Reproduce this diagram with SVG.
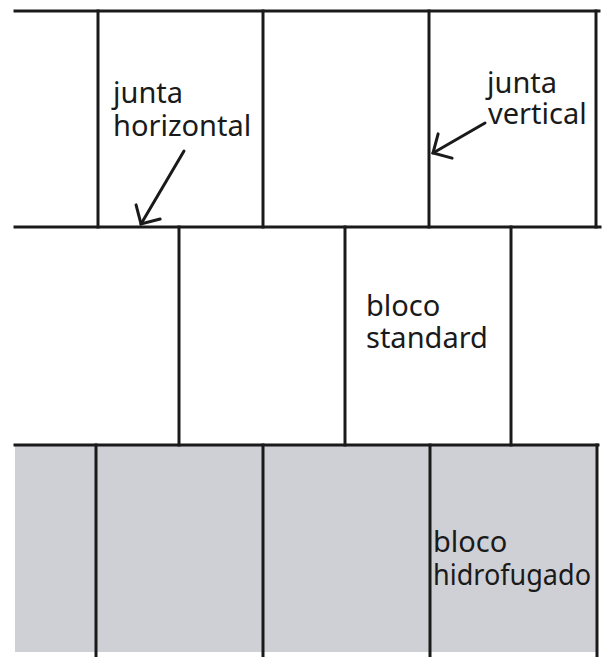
<svg xmlns="http://www.w3.org/2000/svg" width="602" height="657" viewBox="0 0 602 657">
  <style>
    .joint { stroke: #1a1a1a; stroke-width: 3; fill: none; stroke-linecap: square; }
    .lbl { font-family: "Noto Sans", "Liberation Sans", sans-serif; font-size: 29px; fill: #1a1a1a; }
    .arrow { stroke: #1a1a1a; stroke-width: 3; fill: none; stroke-linecap: round; marker-end: url(#openhead); }
  </style>
  <defs>
    <marker id="openhead" markerUnits="userSpaceOnUse" markerWidth="40" markerHeight="40" viewBox="-20 -20 40 40" refX="0" refY="0" orient="auto">
      <path d="M -14 -14 L 0 0 L -14 14" fill="none" stroke="#1a1a1a" stroke-width="3" stroke-linecap="round" stroke-linejoin="miter"/>
    </marker>
  </defs>
  <rect width="602" height="657" fill="#ffffff"/>

  <g id="bloco-hidrofugado-row">
    <rect x="15" y="445" width="582" height="207" fill="#cfd0d5"/>
  </g>

  <g id="wall-joints" class="joint">
    <line x1="15" y1="11" x2="599" y2="11"/>
    <line x1="98" y1="11" x2="98" y2="227"/>
    <line x1="263" y1="11" x2="263" y2="227"/>
    <line x1="429" y1="11" x2="429" y2="227"/>
    <line x1="596" y1="11" x2="596" y2="227"/>
    <line x1="15" y1="227" x2="600" y2="227"/>
    <line x1="179" y1="227" x2="179" y2="445"/>
    <line x1="345" y1="227" x2="345" y2="445"/>
    <line x1="511" y1="227" x2="511" y2="445"/>
    <line x1="15" y1="445" x2="598" y2="445"/>
    <line x1="96" y1="445" x2="96" y2="657"/>
    <line x1="263" y1="445" x2="263" y2="657"/>
    <line x1="430" y1="445" x2="430" y2="657"/>
    <line x1="597" y1="445" x2="597" y2="657"/>
  </g>

  <g id="label-junta-horizontal">
    <text class="lbl" x="113" y="103">junta</text>
    <text class="lbl" x="113" y="136">horizontal</text>
  </g>
  <g id="label-junta-vertical">
    <text class="lbl" x="487" y="93">junta</text>
    <text class="lbl" x="488" y="124">vertical</text>
  </g>
  <g id="label-bloco-standard">
    <text class="lbl" x="366" y="316">bloco</text>
    <text class="lbl" x="366" y="348">standard</text>
  </g>
  <g id="label-bloco-hidrofugado">
    <text class="lbl" x="433" y="552">bloco</text>
    <text class="lbl" x="433" y="585" textLength="158" lengthAdjust="spacingAndGlyphs">hidrofugado</text>
  </g>

  <g id="connectors">
    <line class="arrow" x1="184" y1="151" x2="141" y2="224"/>
    <line class="arrow" x1="485" y1="123" x2="433" y2="153"/>
  </g>
</svg>
